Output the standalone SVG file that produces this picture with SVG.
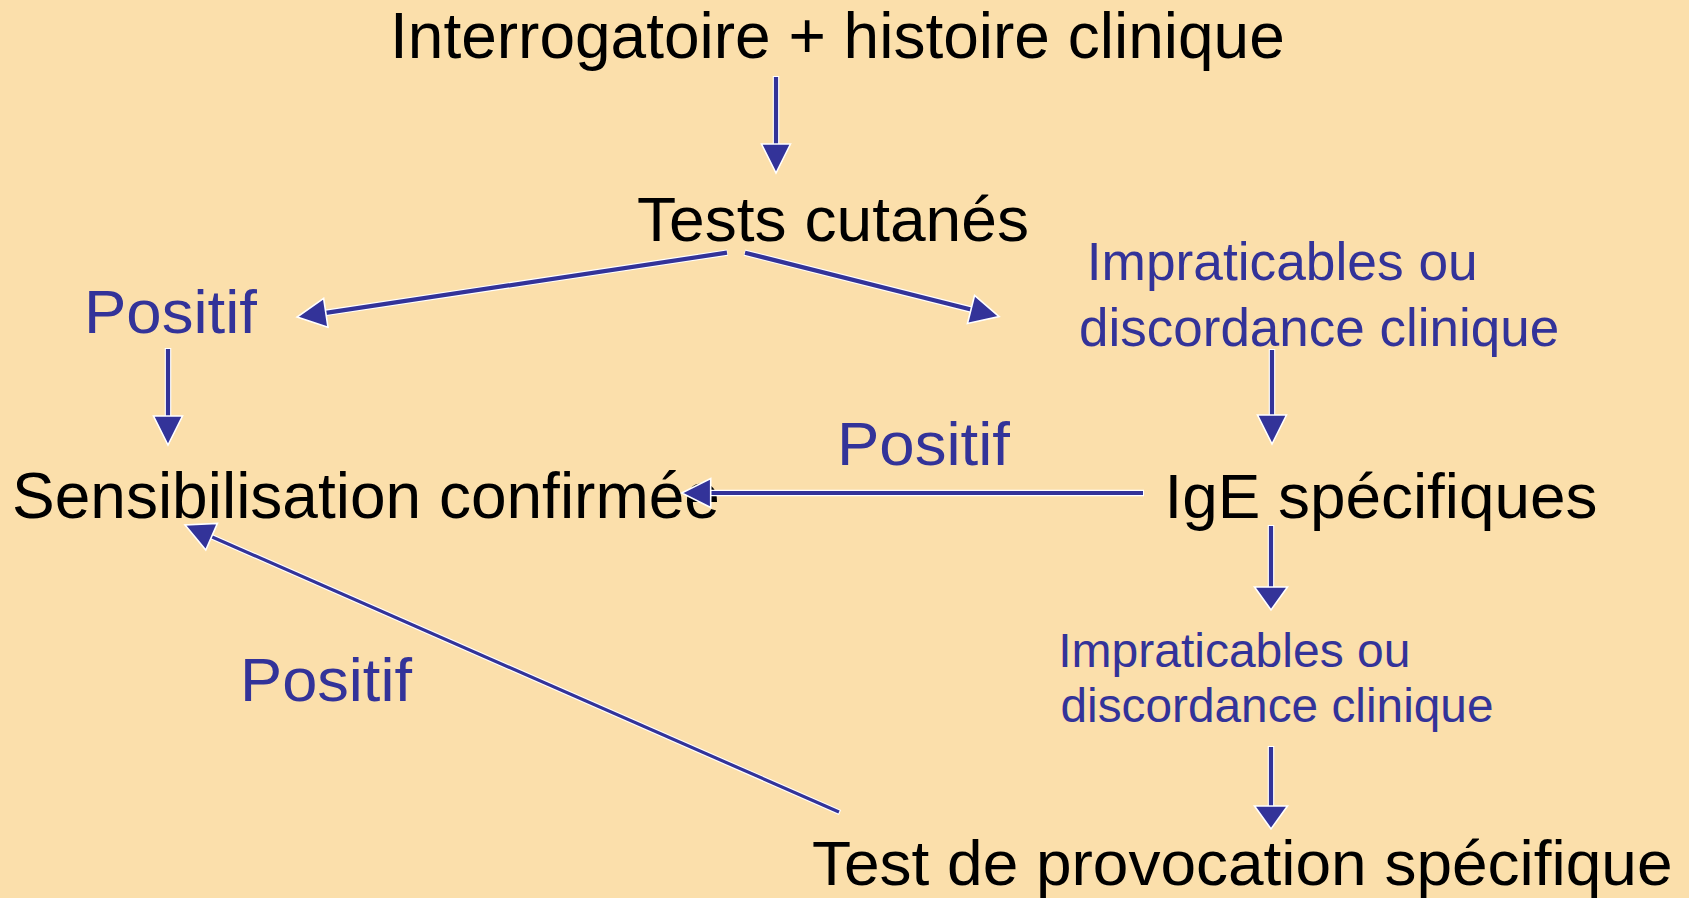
<svg xmlns="http://www.w3.org/2000/svg" width="1689" height="898" viewBox="0 0 1689 898">
<defs>
<style>
.t{font-family:"Liberation Sans",Arial,sans-serif;fill:#000}
.b{font-family:"Liberation Sans",Arial,sans-serif;fill:#333399}
.h{stroke:#ffffff;stroke-width:6.5;fill:none}
.c{stroke:#333399;stroke-width:4.2;fill:none}
.h3{stroke:#ffffff;stroke-width:5.5;fill:none}
.c3{stroke:#333399;stroke-width:3.2;fill:none}
</style>
<marker id="ah" markerUnits="userSpaceOnUse" orient="auto" refX="0" refY="0" overflow="visible" markerWidth="30" markerHeight="30">
<path d="M0,-14.5 L29,0 L0,14.5 Z" fill="#333399" stroke="#ffffff" stroke-width="1.6" stroke-linejoin="miter"/>
</marker>
<marker id="ah2" markerUnits="userSpaceOnUse" orient="auto" refX="0" refY="0" overflow="visible" markerWidth="30" markerHeight="30">
<path d="M0,-16.5 L23,0 L0,16.5 Z" fill="#333399" stroke="#ffffff" stroke-width="1.6" stroke-linejoin="miter"/>
</marker>
</defs>
<rect x="0" y="0" width="1689" height="898" fill="#FBDFAB"/>

<g id="n-interrogatoire"><text class="t" x="390" y="58" font-size="64">Interrogatoire + histoire clinique</text></g>
<g id="n-tests-cutanes"><text class="t" x="637" y="240.5" font-size="62.5" textLength="392" lengthAdjust="spacingAndGlyphs">Tests cutanés</text></g>
<g id="n-positif-1"><text class="b" x="84" y="333" font-size="62" textLength="173" lengthAdjust="spacingAndGlyphs">Positif</text></g>
<g id="n-impraticables-1">
<text class="b" x="1086.7" y="280" font-size="53" textLength="391" lengthAdjust="spacingAndGlyphs">Impraticables ou</text>
<text class="b" x="1079" y="346" font-size="53">discordance clinique</text>
</g>
<g id="n-positif-2"><text class="b" x="837" y="465" font-size="62" textLength="173" lengthAdjust="spacingAndGlyphs">Positif</text></g>
<g id="n-sensibilisation"><text class="t" x="12" y="517.7" font-size="64">Sensibilisation confirmée</text></g>
<g id="n-ige"><text class="t" x="1164.5" y="518" font-size="63.5" textLength="433" lengthAdjust="spacingAndGlyphs">IgE spécifiques</text></g>
<g id="n-impraticables-2">
<text class="b" x="1058.2" y="666.7" font-size="48">Impraticables ou</text>
<text class="b" x="1060.5" y="721.7" font-size="48" textLength="433" lengthAdjust="spacingAndGlyphs">discordance clinique</text>
</g>
<g id="n-positif-3"><text class="b" x="240" y="700.7" font-size="62" textLength="172" lengthAdjust="spacingAndGlyphs">Positif</text></g>
<g id="n-test-provocation"><text class="t" x="812" y="885" font-size="63" textLength="860.5" lengthAdjust="spacingAndGlyphs">Test de provocation spécifique</text></g>

<g id="connectors">
<g id="e1"><line class="h" x1="776" y1="76" x2="776" y2="144"/><line class="c" x1="776" y1="77" x2="776" y2="144" marker-end="url(#ah)"/></g>
<g id="e2"><line class="h" x1="727.5" y1="252.6" x2="325.8" y2="312.8"/><line class="c" x1="727" y1="252.7" x2="325.8" y2="312.8" marker-end="url(#ah)"/></g>
<g id="e3"><line class="h" x1="744.5" y1="252.6" x2="971" y2="309.5"/><line class="c" x1="745" y1="252.7" x2="971" y2="309.5" marker-end="url(#ah)"/></g>
<g id="e4"><line class="h" x1="168" y1="348" x2="168" y2="416"/><line class="c" x1="168" y1="349" x2="168" y2="416" marker-end="url(#ah)"/></g>
<g id="e5"><line class="h" x1="1272" y1="349" x2="1272" y2="415"/><line class="c" x1="1272" y1="350" x2="1272" y2="415" marker-end="url(#ah)"/></g>
<g id="e6"><line class="h" x1="1144" y1="493" x2="710.7" y2="493"/><line class="c" x1="1143" y1="493" x2="710.7" y2="493" marker-end="url(#ah)"/></g>
<g id="e7"><line class="h" x1="1271" y1="525" x2="1271" y2="587"/><line class="c" x1="1271" y1="526" x2="1271" y2="587" marker-end="url(#ah2)"/></g>
<g id="e8"><line class="h" x1="1271" y1="746" x2="1271" y2="806"/><line class="c" x1="1271" y1="747" x2="1271" y2="806" marker-end="url(#ah2)"/></g>
<g id="e9"><line class="h3" x1="840" y1="812.5" x2="211.6" y2="536.7"/><line class="c3" x1="839" y1="812" x2="211.6" y2="536.7" marker-end="url(#ah)"/></g>
</g>
</svg>
